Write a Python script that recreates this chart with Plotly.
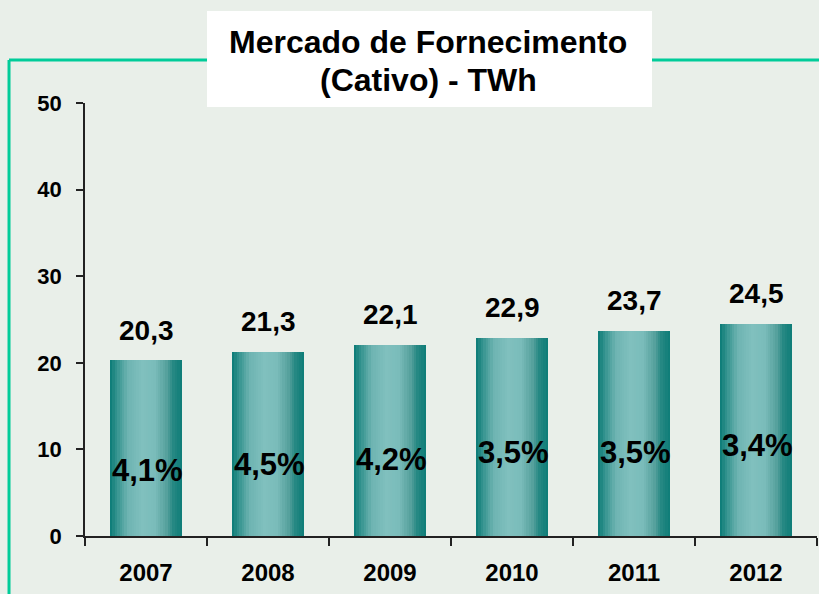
import plotly.graph_objects as go

years = ["2007", "2008", "2009", "2010", "2011", "2012"]
values = [20.3, 21.3, 22.1, 22.9, 23.7, 24.5]
value_labels = ["20,3", "21,3", "22,1", "22,9", "23,7", "24,5"]
growth_labels = ["4,1%", "4,5%", "4,2%", "3,5%", "3,5%", "3,4%"]
growth_label_y = [7.6, 8.2, 8.8, 9.6, 9.6, 10.5]
title_lines = ["Mercado de Fornecimento", "(Cativo) - TWh"]

FONT = "Liberation Sans, Arial, sans-serif"
BG = "#E9EFE9"
GREEN = "#00CC99"

# gradient stops across the bar width (t, rgb)
stops = [(0.0, (8, 122, 117)), (0.10, (55, 148, 144)), (0.25, (110, 180, 178)),
         (0.45, (128, 192, 190)), (0.62, (122, 188, 186)), (0.78, (88, 162, 158)),
         (0.88, (38, 136, 131)), (1.0, (12, 124, 119))]


def grad(t):
    for (t0, c0), (t1, c1) in zip(stops[:-1], stops[1:]):
        if t0 <= t <= t1:
            f = (t - t0) / (t1 - t0) if t1 > t0 else 0
            return "rgb(%d,%d,%d)" % tuple(round(a + (b - a) * f) for a, b in zip(c0, c1))
    return "rgb(%d,%d,%d)" % stops[-1][1]


BAR_W = 0.59
N = 30
fig = go.Figure()
for i in range(N):
    t = (i + 0.5) / N
    fig.add_trace(go.Bar(
        x=years, y=values,
        width=BAR_W / N + 0.002,
        offset=-BAR_W / 2 + i * BAR_W / N,
        marker=dict(color=grad(t), line=dict(width=0)),
        hoverinfo="skip", showlegend=False,
    ))

annotations = []
for i, (v, lab) in enumerate(zip(values, value_labels)):
    annotations.append(dict(x=i, y=v, text="<b>" + lab + "</b>", showarrow=False,
                            yshift=30, font=dict(family=FONT, size=28, color="black")))
for i, (y, lab) in enumerate(zip(growth_label_y, growth_labels)):
    annotations.append(dict(x=i, y=y, text="<b>" + lab + "</b>", showarrow=False,
                            xshift=1, font=dict(family=FONT, size=31, color="black")))
for k, (line, ypx) in enumerate(zip(title_lines, [42, 80])):
    annotations.append(dict(xref="paper", yref="paper", x=(428 - 85) / 732,
                            y=(536 - ypx) / 433, xanchor="center", yanchor="middle",
                            text="<b>" + line + "</b>", showarrow=False,
                            font=dict(family=FONT, size=32, color="black")))

shapes = [
    dict(type="line", xref="paper", yref="paper", x0=-0.1038, x1=-0.1038,
         y0=-0.2, y1=1.0993, line=dict(color=GREEN, width=3)),
    dict(type="line", xref="paper", yref="paper", x0=-0.1038, x1=1.01,
         y0=1.0993, y1=1.0993, line=dict(color=GREEN, width=3)),
    dict(type="rect", xref="paper", yref="paper", x0=0.1667, x1=0.7746,
         y0=0.9908, y1=1.2125, fillcolor="white", line=dict(width=0)),
]

fig.update_layout(
    width=819, height=594,
    margin=dict(l=85, r=2, t=103, b=58),
    paper_bgcolor=BG, plot_bgcolor=BG,
    barmode="overlay", bargap=0,
    font=dict(family=FONT, color="black"),
    annotations=annotations, shapes=shapes,
    showlegend=False,
)
fig.update_xaxes(
    type="category", range=[-0.5, 5.5], showgrid=False, zeroline=False,
    showline=True, linecolor="#222222", linewidth=1.5,
    ticks="outside", ticklen=8, tickcolor="#222222", tickwidth=1.5,
    tickson="boundaries", ticklabelstandoff=14,
    tickfont=dict(family=FONT, size=24, color="black", weight="bold"),
)
fig.update_yaxes(
    range=[0, 50], tickvals=[0, 10, 20, 30, 40, 50], showgrid=False,
    zeroline=False, showline=True, linecolor="#222222", linewidth=1.5,
    ticks="outside", ticklen=7, tickcolor="#222222", tickwidth=1.5,
    ticklabelstandoff=10,
    tickfont=dict(family=FONT, size=22, color="black", weight="bold"),
)

fig.write_html("out.html", config={"displayModeBar": False},
               post_script="document.body.style.margin='0';document.body.style.overflow='hidden';")
